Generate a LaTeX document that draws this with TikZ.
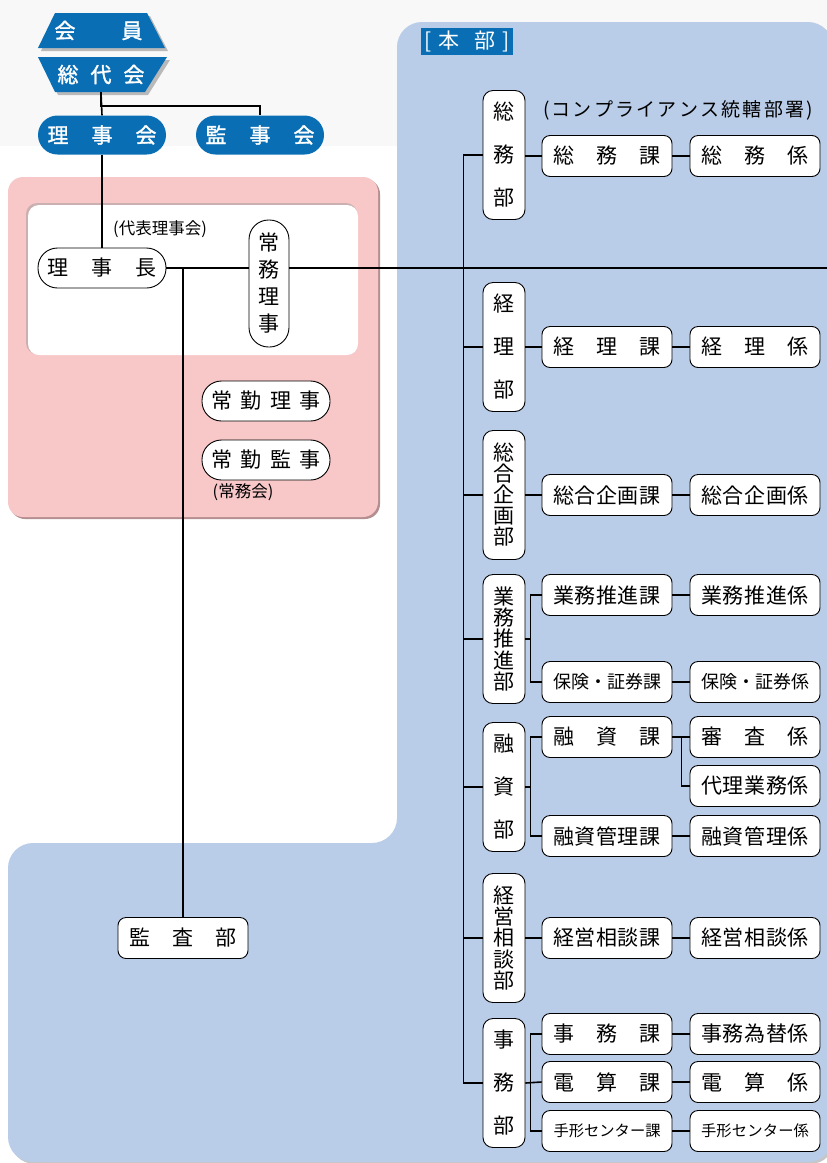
\documentclass[tikz,border=0pt]{standalone}
\usepackage{fontspec}
\newfontfamily\jp{Noto Sans CJK JP}
\newfontfamily\jpb[FakeBold=1.5]{Noto Sans CJK JP}
\usetikzlibrary{calc}
\definecolor{panelblue}{HTML}{B9CCE8}
\definecolor{pinkbg}{HTML}{F8C7C8}
\definecolor{pinkshade}{HTML}{B58E90}
\definecolor{hqblue}{HTML}{0A6EB4}
\definecolor{topgray}{HTML}{F8F8F8}
\newcommand\sw[2]{\makebox[#1][s]{#2}}
\begin{document}
\begin{tikzpicture}[x=1pt,y=-1pt,
  conn/.style={line width=1.6pt},
  kabox/.style={draw, fill=white, line width=0.9pt, rounded corners=8pt, minimum width=130pt, minimum height=41pt, inner sep=0pt, font=\jp\fontsize{21}{21}\selectfont},
  bubox/.style={draw, fill=white, line width=0.9pt, rounded corners=10pt, minimum width=42pt, minimum height=129pt, inner sep=0pt, align=center},
  wpill/.style={draw, fill=white, line width=0.9pt, rounded corners=19.5pt, minimum width=128pt, minimum height=40pt, inner sep=0pt, font=\jp\fontsize{21}{21}\selectfont},
  bpill/.style={fill=hqblue, rounded corners=19.5pt, minimum width=128pt, minimum height=39pt, inner sep=0pt, text=white, font=\jpb\fontsize{21}{21}\selectfont},
  lbl/.style={inner sep=0pt, font=\jp\fontsize{16.5}{16.5}\selectfont}
]
\useasboundingbox (0,0) rectangle (827,1163);
% backgrounds
\fill[white] (0,0) rectangle (827,1163);
\fill[topgray] (0,0) rectangle (827,146);
\fill[gray!45, rounded corners=25pt] (10,1164) -- (10,845) -- (399,845) -- (399,24) -- (835,24) -- (835,1164) -- cycle;
\fill[panelblue, rounded corners=25pt] (8,1162) -- (8,843) -- (397,843) -- (397,22) -- (833,22) -- (833,1162) -- cycle;
\fill[pinkshade, rounded corners=15pt] (10,179) rectangle (380,519);
\fill[pinkbg, rounded corners=15pt] (8,177) rectangle (378,517);
\fill[pinkshade!70, rounded corners=11pt] (26,203) rectangle (357,354);
\fill[white, rounded corners=11pt] (28,205) rectangle (358,355);
% top shapes
\fill[gray!55] (58,16) -- (150,16) -- (168,51) -- (41,51) -- cycle;
\fill[gray!55] (41,60) -- (170,60) -- (148,95) -- (58,95) -- cycle;
\fill[hqblue] (55,13) -- (147,13) -- (165,48) -- (38,48) -- cycle;
\fill[hqblue] (38,57) -- (167,57) -- (145,92) -- (55,92) -- cycle;
\node[inner sep=0pt, minimum height=35pt, text=white, font=\jpb\fontsize{21}{21}\selectfont] (kaiin) at (98.5,30.5) {\sw{88pt}{会\hfil 員}};
\node[inner sep=0pt, minimum height=35pt, text=white, font=\jpb\fontsize{21}{21}\selectfont] (sodai) at (101,74.5) {\sw{87pt}{総\hfil 代\hfil 会}};
\node[bpill] (rk) at (102,135) {\sw{109pt}{理\hfil 事\hfil 会}};
\node[bpill] (kk) at (260,135) {\sw{109pt}{監\hfil 事\hfil 会}};
% executive
\node[lbl] (dlbl) at (160,229) {(代表理事会)};
\node[wpill] (rc) at (102,268) {\sw{109pt}{理\hfil 事\hfil 長}};
\node[draw, fill=white, line width=0.9pt, rounded corners=19.5pt, minimum width=40pt, minimum height=127pt, inner sep=0pt, align=center, font=\jp\fontsize{21}{27}\selectfont] (jm) at (269,283.5) {常\\務\\理\\事};
\node[wpill] (jr) at (266,401) {\sw{110pt}{常\hfil 勤\hfil 理\hfil 事}};
\node[wpill] (jk) at (266,460) {\sw{110pt}{常\hfil 勤\hfil 監\hfil 事}};
\node[lbl] (jlbl) at (243,492) {(常務会)};
\node[kabox, minimum width=130pt] (kb) at (183,938) {\sw{108pt}{監\hfil 査\hfil 部}};
% HQ label
\node[fill=hqblue, text=white, minimum width=92pt, minimum height=27pt, inner sep=0pt, font=\jp\fontsize{21}{21}\selectfont] (hq) at (467,41.5) {\sw{86pt}{[\hfil 本\hfil\hfil 部\hfil ]}};
\node[inner sep=0pt, font=\jp\fontsize{19}{19}\selectfont] (comp) at (678,110) {\sw{270pt}{(\hfil コ\hfil ン\hfil プ\hfil ラ\hfil イ\hfil ア\hfil ン\hfil ス\hfil 統\hfil 轄\hfil 部\hfil 署\hfil )}};
% departments
\node[bubox, font=\jp\fontsize{21}{21}\selectfont] (b1) at (504,155) {総\\[22pt]務\\[22pt]部};
\node[bubox, font=\jp\fontsize{21}{21}\selectfont] (b2) at (504,347) {経\\[22pt]理\\[22pt]部};
\node[bubox, font=\jp\fontsize{21}{21}\selectfont] (b3) at (504,495) {総\\合\\企\\画\\部};
\node[bubox, font=\jp\fontsize{21}{21.3}\selectfont] (b4) at (504,639) {業\\務\\推\\進\\部};
\node[bubox, font=\jp\fontsize{21}{21}\selectfont] (b5) at (504,787) {融\\[22pt]資\\[22pt]部};
\node[bubox, font=\jp\fontsize{21}{21.3}\selectfont] (b6) at (504,938) {経\\営\\相\\談\\部};
\node[bubox, font=\jp\fontsize{21}{21}\selectfont] (b7) at (504,1083) {事\\[22pt]務\\[22pt]部};
% sections
\node[kabox] (k1) at (607,156) {\sw{107pt}{総\hfil 務\hfil 課}};
\node[kabox] (k2) at (607,347) {\sw{107pt}{経\hfil 理\hfil 課}};
\node[kabox] (k3) at (607,495) {\sw{107pt}{総\hfil 合\hfil 企\hfil 画\hfil 課}};
\node[kabox] (k4a) at (607,595) {\sw{107pt}{業\hfil 務\hfil 推\hfil 進\hfil 課}};
\node[kabox, font=\jp\fontsize{18}{18}\selectfont] (k4b) at (607,682) {\sw{107pt}{保\hfil 険\hfil ・\hfil 証\hfil 券\hfil 課}};
\node[kabox] (k5a) at (607,737) {\sw{107pt}{融\hfil 資\hfil 課}};
\node[kabox] (k5b) at (607,836) {\sw{107pt}{融\hfil 資\hfil 管\hfil 理\hfil 課}};
\node[kabox] (k6) at (607,938) {\sw{107pt}{経\hfil 営\hfil 相\hfil 談\hfil 課}};
\node[kabox] (k7a) at (607,1034) {\sw{107pt}{事\hfil 務\hfil 課}};
\node[kabox] (k7b) at (607,1082) {\sw{107pt}{電\hfil 算\hfil 課}};
\node[kabox, font=\jp\fontsize{15.3}{15.3}\selectfont] (k7c) at (607,1131) {\sw{107pt}{手\hfil 形\hfil セ\hfil ン\hfil タ\hfil ー\hfil 課}};
% units
\node[kabox] (g1) at (755,156) {\sw{108pt}{総\hfil 務\hfil 係}};
\node[kabox] (g2) at (755,347) {\sw{108pt}{経\hfil 理\hfil 係}};
\node[kabox] (g3) at (755,495) {\sw{108pt}{総\hfil 合\hfil 企\hfil 画\hfil 係}};
\node[kabox] (g4a) at (755,595) {\sw{108pt}{業\hfil 務\hfil 推\hfil 進\hfil 係}};
\node[kabox, font=\jp\fontsize{18}{18}\selectfont] (g4b) at (755,682) {\sw{108pt}{保\hfil 険\hfil ・\hfil 証\hfil 券\hfil 係}};
\node[kabox] (g5a) at (755,737) {\sw{108pt}{審\hfil 査\hfil 係}};
\node[kabox] (g5b) at (755,786) {\sw{108pt}{代\hfil 理\hfil 業\hfil 務\hfil 係}};
\node[kabox] (g5c) at (755,836) {\sw{108pt}{融\hfil 資\hfil 管\hfil 理\hfil 係}};
\node[kabox] (g6) at (755,938) {\sw{108pt}{経\hfil 営\hfil 相\hfil 談\hfil 係}};
\node[kabox] (g7a) at (755,1034) {\sw{108pt}{事\hfil 務\hfil 為\hfil 替\hfil 係}};
\node[kabox] (g7b) at (755,1082) {\sw{108pt}{電\hfil 算\hfil 係}};
\node[kabox, font=\jp\fontsize{15.3}{15.3}\selectfont] (g7c) at (755,1131) {\sw{108pt}{手\hfil 形\hfil セ\hfil ン\hfil タ\hfil ー\hfil 係}};
% connectors top
\draw[conn] (sodai.south) -- (rk.north);
\draw[conn] (sodai.south) -- ++(0,14) -| (kk.north);
\draw[conn] (rk.south) -- (rc.north);
\coordinate (rt) at (827,268);
\draw[conn] (rc.east) -- (rc.east -| jm.west);
\draw[conn] (rc.east -| jm.east) -- (rt);
\draw[conn] (kb.north) -- (kb.north |- rc.east);
% trunk
\draw[conn] (b1.west) -- ++(-19,0) coordinate (t1) |- (b7.west);
\foreach \b in {b2,b3,b4,b5,b6} { \draw[conn] (\b.west) -- (\b.west -| t1); }
% dept to sections
\draw[conn] (b1.east |- k1.west) -- (k1.west);
\draw[conn] (b2.east) -- (k2.west);
\draw[conn] (b3.east) -- (k3.west);
\draw[conn] (b6.east) -- (k6.west);
\draw[conn] (b4.east) -- ([xshift=5pt]b4.east);
\draw[conn] (k4a.west) -| ([xshift=5pt]b4.east) |- (k4b.west);
\draw[conn] (b5.east) -- ([xshift=5pt]b5.east);
\draw[conn] (k5a.west) -| ([xshift=5pt]b5.east) |- (k5b.west);
\draw[conn] (b7.east) -- (k7b.west);
\draw[conn] (k7a.west) -| ([xshift=5pt]b7.east) |- (k7c.west);
% sections to units
\foreach \k/\g in {k1/g1,k2/g2,k3/g3,k4a/g4a,k4b/g4b,k5a/g5a,k5b/g5c,k6/g6,k7a/g7a,k7b/g7b,k7c/g7c} { \draw[conn] (\k.east) -- (\g.west); }
\draw[conn] (g5b.west) -| ([xshift=9pt]k5a.east);
\end{tikzpicture}
\end{document}
